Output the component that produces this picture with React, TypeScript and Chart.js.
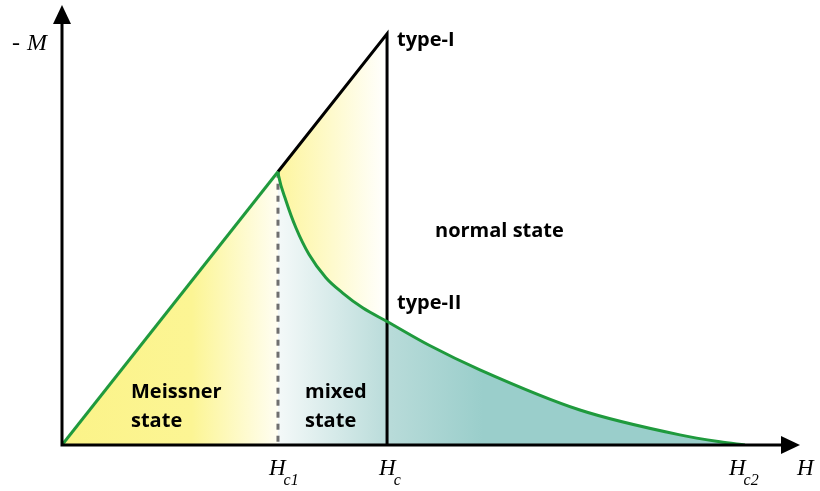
import { useEffect, useRef } from 'react';
import { Chart, registerables } from 'chart.js';

Chart.register(...registerables);

// Field values (H) and magnetization (-M), in units of Hc1
const H_C1 = 1.0;
const H_C = 1.505;
const H_C2 = 3.162;
const H_AXIS_END = 3.417;
const M_AXIS_END = 1.61;

// Meissner state: -M = H up to Hc1
const meissnerH = [0, H_C1];
const meissnerM = [0, 1.0];

// Type-I: -M = H up to Hc, then drops to zero
const typeIH = [H_C1, H_C, H_C];
const typeIM = [1.0, 1.505, 0];

// Type-II mixed state: decays from Hc1 to Hc2
const mixedH = [1.0, 1.003, 1.037, 1.083, 1.144, 1.222, 1.3, 1.392, 1.505, 1.7, 1.935, 2.398, 2.861, 3.046, 3.162];
const mixedM = [1.0, 0.984, 0.894, 0.795, 0.697, 0.612, 0.556, 0.502, 0.452, 0.365, 0.275, 0.128, 0.037, 0.012, 0];

// Dashed Hc1 marker
const hc1LineH = [H_C1, H_C1];
const hc1LineM = [1.0, 0];

// Tick labels on the H axis
const tickValues = [H_C1, H_C, H_C2];
const tickMain = ['H', 'H', 'H'];
const tickSub = ['c1', 'c', 'c2'];

const pts = (xs: number[], ys: number[]) => xs.map((x, i) => ({ x, y: ys[i] }));

const GREEN = '#1f9a3d';

function hGradient(ctx: any, h0: number, h1: number, stops: [number, string][]) {
  const chart = ctx.chart;
  if (!chart.chartArea) return 'rgba(0,0,0,0)';
  const xs = chart.scales.x;
  const g = chart.ctx.createLinearGradient(xs.getPixelForValue(h0), 0, xs.getPixelForValue(h1), 0);
  stops.forEach(([o, c]) => g.addColorStop(o, c));
  return g;
}

const overlayPlugin = {
  id: 'overlay',
  afterDatasetsDraw(chart: any) {
    const c = chart.ctx;
    const xs = chart.scales.x;
    const ys = chart.scales.y;
    const x0 = xs.getPixelForValue(0);
    const y0 = ys.getPixelForValue(0);
    const xEnd = xs.getPixelForValue(H_AXIS_END);
    const yEnd = ys.getPixelForValue(M_AXIS_END);
    c.save();
    // axes
    c.strokeStyle = '#000';
    c.fillStyle = '#000';
    c.lineWidth = 3;
    c.lineCap = 'butt';
    c.beginPath();
    c.moveTo(x0 - 1.5, y0);
    c.lineTo(xEnd - 14, y0);
    c.moveTo(x0, y0 + 1.5);
    c.lineTo(x0, yEnd + 14);
    c.stroke();
    // arrow heads
    c.beginPath();
    c.moveTo(xEnd, y0);
    c.lineTo(xEnd - 19, y0 - 9);
    c.lineTo(xEnd - 19, y0 + 9);
    c.closePath();
    c.fill();
    c.beginPath();
    c.moveTo(x0, yEnd);
    c.lineTo(x0 - 9, yEnd + 19);
    c.lineTo(x0 + 9, yEnd + 19);
    c.closePath();
    c.fill();

    // axis labels
    c.textBaseline = 'alphabetic';
    c.textAlign = 'left';
    c.font = 'italic 24px "Liberation Serif", serif';
    c.fillText('-', 12, 50);
    c.fillText('M', 27, 50);
    c.font = 'italic 23px "Liberation Serif", serif';
    c.fillText('H', xEnd - 3, y0 + 30);

    // tick labels
    const offsets = [-9, -8, -16];
    tickValues.forEach((v, i) => {
      const px = xs.getPixelForValue(v) + offsets[i];
      c.font = 'italic 23px "Liberation Serif", serif';
      c.fillText(tickMain[i], px, y0 + 30);
      const w = c.measureText(tickMain[i]).width;
      c.font = 'italic 16px "Liberation Serif", serif';
      c.fillText(tickSub[i], px + w - 2, y0 + 40);
    });

    // region labels
    c.font = 'bold 20px "Open Sans", sans-serif';
    const xc = xs.getPixelForValue(H_C);
    c.fillText('type-I', xc + 10, ys.getPixelForValue(1.505) + 12);
    c.fillText('type-II', xc + 10, ys.getPixelForValue(0.452) - 12);
    c.fillText('normal state', 435, 237);
    c.fillText('Meissner', 131, 398);
    c.fillText('state', 131, 427);
    c.fillText('mixed', 305, 398);
    c.fillText('state', 305, 427);
    c.restore();
  },
};

export default function App() {
  const ref = useRef<HTMLCanvasElement | null>(null);
  useEffect(() => {
    document.body.style.margin = '0';
    const chart = new Chart(ref.current as HTMLCanvasElement, {
      type: 'line',
      data: {
        datasets: [
          {
            data: pts(mixedH, mixedM),
            borderColor: GREEN,
            borderWidth: 3,
            pointRadius: 0,
            cubicInterpolationMode: 'monotone',
            fill: false,
          },
          {
            data: pts(meissnerH, meissnerM),
            borderColor: GREEN,
            borderWidth: 3,
            pointRadius: 0,
            tension: 0,
            fill: false,
          },
          {
            data: pts(typeIH, typeIM),
            borderColor: '#000',
            borderWidth: 3,
            borderJoinStyle: 'miter',
            pointRadius: 0,
            tension: 0,
            fill: false,
          },
          {
            data: pts(hc1LineH, hc1LineM),
            borderColor: '#6f6f6f',
            borderWidth: 3,
            borderDash: [6, 6],
            pointRadius: 0,
            tension: 0,
            fill: false,
          },
          {
            data: pts(mixedH, mixedM),
            borderWidth: 0,
            borderColor: 'rgba(0,0,0,0)',
            pointRadius: 0,
            cubicInterpolationMode: 'monotone',
            fill: 'origin',
            backgroundColor: (ctx: any) =>
              hGradient(ctx, H_C1, 1.95, [
                [0, '#f4f9f9'],
                [0.55, '#b8dbd9'],
                [1, '#9acecb'],
              ]),
          },
          {
            data: pts([H_C1, H_C], [1.0, 1.505]),
            borderWidth: 0,
            borderColor: 'rgba(0,0,0,0)',
            pointRadius: 0,
            tension: 0,
            fill: 'origin',
            backgroundColor: (ctx: any) =>
              hGradient(ctx, H_C1, H_C, [
                [0, '#fdf59e'],
                [0.5, '#fefacd'],
                [1, '#ffffff'],
              ]),
          },
          {
            data: pts(meissnerH, meissnerM),
            borderWidth: 0,
            borderColor: 'rgba(0,0,0,0)',
            pointRadius: 0,
            tension: 0,
            fill: 'origin',
            backgroundColor: (ctx: any) =>
              hGradient(ctx, 0, H_C1, [
                [0, '#fbf388'],
                [0.6, '#fcf594'],
                [1, '#fffef2'],
              ]),
          },
        ],
      },
      options: {
        animation: false,
        responsive: false,
        devicePixelRatio: 1,
        layout: { padding: { left: 62, right: 20, top: 5, bottom: 46 } },
        plugins: { legend: { display: false }, tooltip: { enabled: false } },
        scales: {
          x: { type: 'linear', min: 0, max: H_AXIS_END, display: false },
          y: { type: 'linear', min: 0, max: M_AXIS_END, display: false },
        },
      },
      plugins: [overlayPlugin],
    } as any);
    return () => chart.destroy();
  }, []);
  return (
    <div style={{ width: 820, height: 491, background: '#fff' }}>
      <canvas ref={ref} width={820} height={491} />
    </div>
  );
}
